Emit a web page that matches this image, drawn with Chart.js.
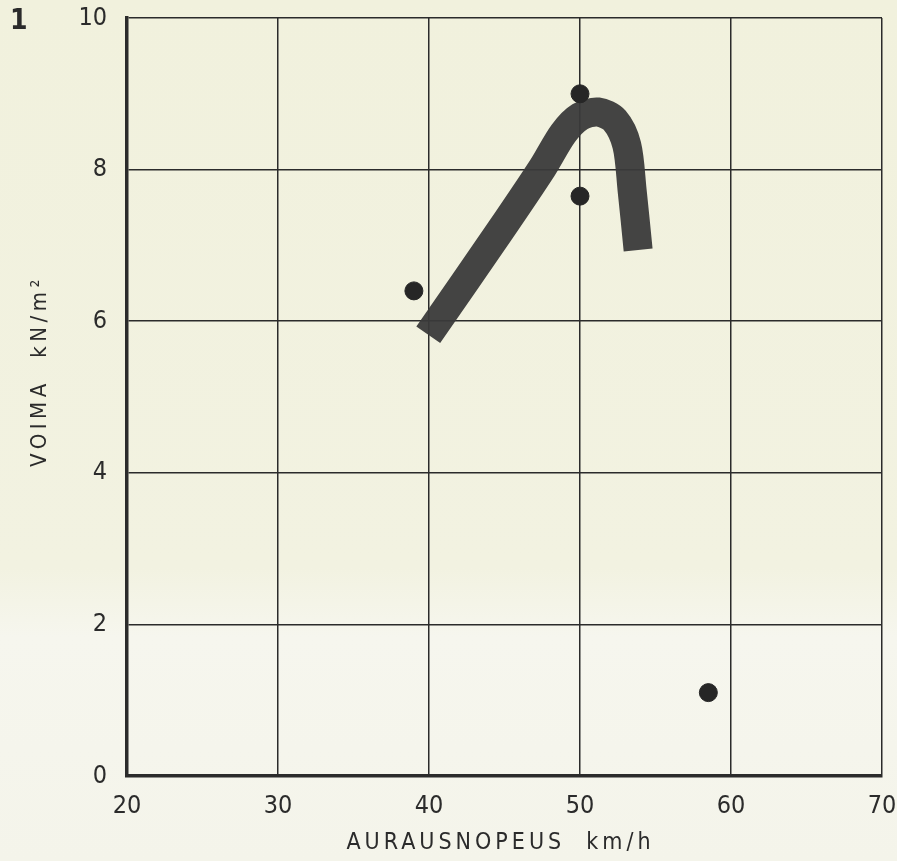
<!DOCTYPE html>
<html>
<head>
<meta charset="utf-8">
<script src="https://cdn.jsdelivr.net/npm/chart.js@4/dist/chart.umd.min.js"></script>
<style>
  html, body { margin: 0; padding: 0; background: #f4f3e3; }
  #wrap { width: 897px; height: 861px; position: relative; }
</style>
</head>
<body>
<div id="wrap"><canvas id="chart"></canvas></div>
<script>
// mitatut pisteet
const pointX = [39, 50, 50, 58.5];
const pointY = [6.4, 9.0, 7.65, 1.1];

// paksu käyrä
const curveX = [39.95, 44.7, 47.5, 48.9, 50.0, 51.2, 52.3, 53.1, 53.45, 53.85];
const curveY = [5.82, 7.19, 8.02, 8.48, 8.7, 8.76, 8.65, 8.32, 7.73, 6.94];

const xTicks = [20, 30, 40, 50, 60, 70];
const yTicks = [0, 2, 4, 6, 8, 10];

const FONT = '"DejaVu Sans Condensed", "DejaVu Sans", sans-serif';
const INK = '#2b2b2b';

// paperin tausta
const paperBg = {
  id: 'paperBg',
  beforeDraw(chart) {
    const ctx = chart.ctx;
    const g = ctx.createLinearGradient(0, 0, 0, chart.height);
    g.addColorStop(0, '#f1f1dd');
    g.addColorStop(0.66, '#f2f2e1');
    g.addColorStop(0.74, '#f6f6ee');
    g.addColorStop(1, '#f4f4ea');
    ctx.save();
    ctx.fillStyle = g;
    ctx.fillRect(0, 0, chart.width, chart.height);
    ctx.restore();
  }
};

// otsikot ja kuvan numero
const labels = {
  id: 'labels',
  afterDraw(chart) {
    const ctx = chart.ctx;
    const area = chart.chartArea;
    ctx.save();
    ctx.fillStyle = INK;
    ctx.textBaseline = 'middle';

    ctx.font = 'bold 28px ' + FONT;
    ctx.textAlign = 'left';
    ctx.fillText('1', 10, 22);

    ctx.font = '23px ' + FONT;
    ctx.textAlign = 'center';
    ctx.letterSpacing = '4px';
    ctx.fillText('AURAUSNOPEUS  km/h', (area.left + area.right) / 2 - 4, 843);

    ctx.translate(40, 371);
    ctx.rotate(-Math.PI / 2);
    ctx.font = '22px ' + FONT;
    ctx.letterSpacing = '4.5px';
    ctx.fillText('VOIMA  kN/m²', 0, 0);
    ctx.restore();
  }
};

new Chart(document.getElementById('chart'), {
  type: 'scatter',
  data: {
    datasets: [
      {
        label: 'mittaukset',
        data: pointX.map((x, i) => ({x: x, y: pointY[i]})),
        backgroundColor: '#262626',
        borderColor: '#262626',
        pointRadius: 9,
        order: 0
      },
      {
        type: 'line',
        label: 'käyrä',
        data: curveX.map((x, i) => ({x: x, y: curveY[i]})),
        borderColor: 'rgba(58, 58, 58, 0.95)',
        borderWidth: 29,
        borderCapStyle: 'butt',
        borderJoinStyle: 'round',
        tension: 0.3,
        pointRadius: 0,
        fill: false,
        order: 1
      }
    ]
  },
  options: {
    responsive: true,
    maintainAspectRatio: false,
    animation: false,
    layout: {padding: {top: 18, right: 15, left: 0, bottom: 0}},
    plugins: {legend: {display: false}, tooltip: {enabled: false}},
    scales: {
      x: {
        type: 'linear',
        min: 20,
        max: 70,
        afterBuildTicks: (s) => { s.ticks = xTicks.map(v => ({value: v})); },
        afterFit: (s) => { s.height = 85; s.paddingLeft = 0; s.paddingRight = 0; },
        grid: {color: INK, lineWidth: 1.5, drawTicks: false},
        border: {color: INK, width: 3.5},
        ticks: {color: INK, font: {family: FONT, size: 25}, padding: 15}
      },
      y: {
        type: 'linear',
        min: 0,
        max: 10,
        afterBuildTicks: (s) => { s.ticks = yTicks.map(v => ({value: v})); },
        afterFit: (s) => { s.width = 127; s.paddingTop = 0; s.paddingBottom = 0; },
        grid: {color: INK, lineWidth: 1.5, drawTicks: false},
        border: {color: INK, width: 3.5},
        ticks: {color: INK, font: {family: FONT, size: 25}, padding: 20}
      }
    }
  },
  plugins: [paperBg, labels]
});
</script>
</body>
</html>
